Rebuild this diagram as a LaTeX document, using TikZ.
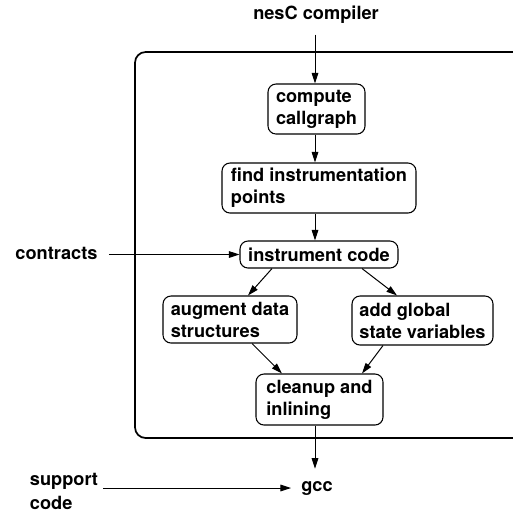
\documentclass[tikz,border=0pt]{standalone}
\usepackage{fontspec}
\setmainfont{TeX Gyre Heros}
\usetikzlibrary{arrows.meta,calc}
\begin{document}
\begin{tikzpicture}[x=0.75pt, y=-0.75pt,
  every node/.style={font=\bfseries\fontsize{13.65}{16.5}\selectfont},
  stepbox/.style={draw, line width=0.8pt, rounded corners=6pt, align=left, inner sep=0pt},
  lbl/.style={align=left, inner sep=0pt},
  arr/.style={line width=0.75pt, -{Triangle[length=8pt, width=5pt]}}]
\clip (0,0) rectangle (513,512);
\coordinate (axis) at (315,0);

% frame of the instrumenting front end
\draw[line width=1.3pt, rounded corners=8pt] (135,52) rectangle (560,438);

% processing steps
\node[stepbox, minimum width=72.75pt, minimum height=37.5pt] (cg) at (316.5,109) {compute\\callgraph};
\node[stepbox, minimum width=145.5pt, minimum height=37.5pt] (fip) at (319,188) {find instrumentation\\points};
\node[stepbox, minimum width=118.5pt, minimum height=20.25pt] (ic) at (319,254.5) {instrument code};
\node[stepbox, minimum width=100.5pt, minimum height=35.25pt] (aug) at (230,319.5) {augment data\\structures};
\node[stepbox, minimum width=105.75pt, minimum height=36.75pt] (agsv) at (422.5,320.5) {add global\\state variables};
\node[stepbox, minimum width=95.25pt, minimum height=38.25pt] (cl) at (319.5,399.5) {cleanup and\\inlining};

% inputs and output
\node[lbl] (nesc) at (316,15) {nesC compiler};
\node[lbl] (con) at (56.5,253) {contracts};
\node[lbl] (sup) at (64,491) {support\\[1.5pt]code};
\node[lbl] (gcc) at (317,488) {gcc};

% connectors
\draw[arr, shorten <=8pt] (nesc.south -| axis) -- (cg.north -| axis);
\draw[arr] (cg.south -| axis) -- (fip.north -| axis);
\draw[arr] (fip.south -| axis) -- (ic.north -| axis);
\draw[arr] ($(con.east |- ic.west)+(11,0)$) -- (ic.west);
\draw[arr] ($(ic.south)+(-47,0)$) -- ($(aug.north)+(18,0)$);
\draw[arr] ($(ic.south)+(43,0)$) -- ($(agsv.north)+(-25.5,0)$);
\draw[arr] ($(aug.south)+(22,0)$) -- ($(cl.north)+(-37.5,0)$);
\draw[arr] ($(agsv.south)+(-39.5,0)$) -- ($(cl.north)+(42.5,0)$);
\draw[arr, shorten >=9pt] (cl.south -| axis) -- (gcc.north -| axis);
\draw[arr] ($(sup.east |- gcc.west)+(5,0)$) -- ($(gcc.west)+(-10,0)$);
\end{tikzpicture}
\end{document}
